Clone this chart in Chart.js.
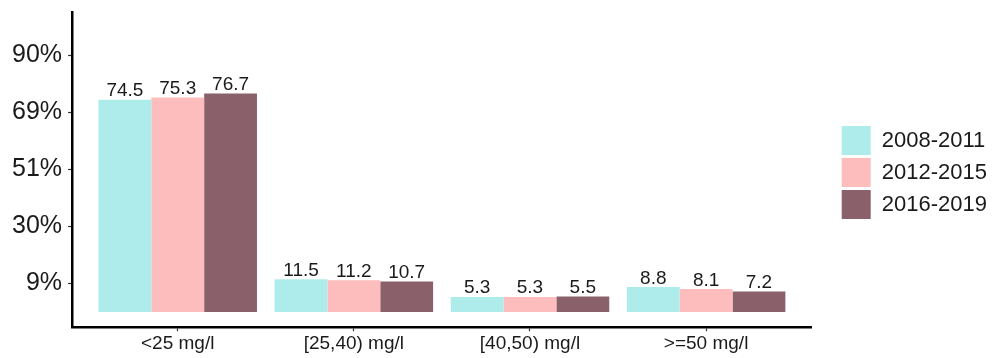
<!DOCTYPE html>
<html>
<head>
<meta charset="utf-8">
<script src="https://cdn.jsdelivr.net/npm/chart.js@4/dist/chart.umd.min.js"></script>
<style>
  html, body { margin: 0; padding: 0; background: #ffffff; }
  #wrap { width: 997px; height: 358px; }
</style>
</head>
<body>
<div id="wrap"><canvas id="c" width="997" height="358"></canvas></div>
<script>
const categories = ['<25 mg/l', '[25,40) mg/l', '[40,50) mg/l', '>=50 mg/l'];
const seriesNames = ['2008-2011', '2012-2015', '2016-2019'];
const values2008_2011 = [74.5, 11.5, 5.3, 8.8];
const values2012_2015 = [75.3, 11.2, 5.3, 8.1];
const values2016_2019 = [76.7, 10.7, 5.5, 7.2];
const yTickValues = [10, 30, 50, 70, 90];
const yTickLabels = ['9%', '30%', '51%', '69%', '90%'];

const seriesValues = [values2008_2011, values2012_2015, values2016_2019];
const seriesColors = ['#AEECEB', '#FDBDBD', '#8A616A'];
const textColor = '#1a1a1a';
const fontFamily = '"Liberation Sans", Arial, sans-serif';

const valueLabels = {
  id: 'valueLabels',
  afterDatasetsDraw(chart) {
    const ctx = chart.ctx;
    ctx.save();
    ctx.font = '19px ' + fontFamily;
    ctx.fillStyle = textColor;
    ctx.textAlign = 'center';
    ctx.textBaseline = 'alphabetic';
    chart.data.datasets.forEach((ds, di) => {
      const meta = chart.getDatasetMeta(di);
      meta.data.forEach((el, i) => {
        const v = ds.data[i].y;
        ctx.fillText(v.toFixed(1), el.x, el.y - 3.5);
      });
    });
    ctx.restore();
  }
};

const legendPlacer = {
  id: 'legendPlacer',
  afterLayout(chart) {
    const L = chart.legend;
    if (!L || !L.columnSizes || !L.columnSizes.length) return;
    const pad = L.options.labels.padding;
    const dx = (841.7 - pad) - L.left;
    L.left += dx; L.right += dx;
    const h = L.bottom - L.top;
    const colH = L.columnSizes[0].height;
    const newTop = (2 * 126 - pad - h + colH) / 2;
    L.top = newTop; L.bottom = newTop + h;
  }
};

new Chart(document.getElementById('c'), {
  type: 'bar',
  data: {
    datasets: seriesNames.map((name, k) => ({
      label: name,
      data: seriesValues[k].map((v, i) => ({ x: i, y: v })),
      backgroundColor: seriesColors[k],
      borderWidth: 0,
      categoryPercentage: 0.9,
      barPercentage: 1.0
    }))
  },
  options: {
    responsive: false,
    animation: false,
    layout: { padding: { left: 6, right: 27, top: 8, bottom: 2 } },
    plugins: {
      tooltip: { enabled: false },
      legend: {
        position: 'right',
        labels: {
          boxWidth: 29,
          boxHeight: 29,
          padding: 3,
          color: textColor,
          font: { family: fontFamily, size: 22 }
        }
      }
    },
    scales: {
      x: {
        type: 'linear',
        min: -0.6,
        max: 3.6,
        offset: false,
        afterBuildTicks: (axis) => { axis.ticks = categories.map((c, i) => ({ value: i })); },
        ticks: {
          autoSkip: false,
          maxRotation: 0,
          padding: 1,
          color: textColor,
          font: { family: fontFamily, size: 19 },
          callback: (v) => categories[v]
        },
        grid: { display: true, drawOnChartArea: false, offset: false, tickLength: 4, tickColor: '#333', tickWidth: 1.2 },
        border: { display: true, color: '#000', width: 2.5 }
      },
      y: {
        min: -5.3,
        max: 105.2,
        afterBuildTicks: (axis) => { axis.ticks = yTickValues.map(v => ({ value: v })); },
        ticks: {
          autoSkip: false,
          padding: 6,
          color: textColor,
          font: { family: fontFamily, size: 25, lineHeight: 0.5 },
          callback: (v, idx) => yTickLabels[idx]
        },
        grid: { display: true, drawOnChartArea: false, tickLength: 4, tickColor: '#333', tickWidth: 1.2 },
        border: { display: true, color: '#000', width: 2.5 }
      }
    }
  },
  plugins: [valueLabels, legendPlacer]
});
</script>
</body>
</html>
